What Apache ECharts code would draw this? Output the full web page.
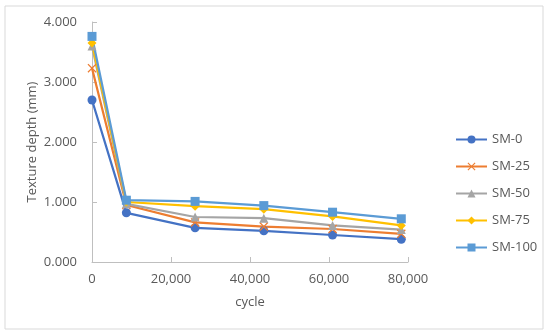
<!DOCTYPE html>
<html><head><meta charset="utf-8">
<script src="https://cdn.jsdelivr.net/npm/echarts@6/dist/echarts.min.js"></script>
<style>html,body{margin:0;padding:0;background:#fff}#c{width:550px;height:336px}</style>
</head><body><div id="c"></div>
<script>
const cycles = [0, 8700, 26100, 43500, 60900, 78300];
const seriesNames = ['SM-0', 'SM-25', 'SM-50', 'SM-75', 'SM-100'];
const sm0 = [2.70, 0.82, 0.57, 0.52, 0.45, 0.38];
const sm25 = [3.23, 0.95, 0.66, 0.59, 0.55, 0.47];
const sm50 = [3.60, 0.97, 0.75, 0.73, 0.61, 0.54];
const sm75 = [3.65, 1.00, 0.93, 0.88, 0.76, 0.61];
const sm100 = [3.76, 1.03, 1.01, 0.94, 0.83, 0.72];
const xTicks = [0, 20000, 40000, 60000, 80000];
const yTicks = [0, 1, 2, 3, 4];

const colors = ['#4472C4', '#ED7D31', '#A5A5A5', '#FFC000', '#5B9BD5'];
const crossPath = 'path://M0,1L1,0L5,4L9,0L10,1L6,5L10,9L9,10L5,6L1,10L0,9L4,5Z';
const symbols = ['circle', crossPath, 'triangle', 'diamond', 'rect'];
const sizes = [9, 9, 9, 9, 9];
const allData = [sm0, sm25, sm50, sm75, sm100];
const font = 'Open Sans, Liberation Sans, sans-serif';

const chart = echarts.init(document.getElementById('c'));
chart.setOption({
  animation: false,
  color: colors,
  textStyle: {fontFamily: font},
  graphic: [{type: 'rect', shape: {x: 5, y: 6, width: 538, height: 323},
    style: {fill: 'none', stroke: '#d9d9d9', lineWidth: 1}, silent: true}],
  grid: {left: 92, right: 142, top: 22, bottom: 74},
  legend: {
    orient: 'vertical', left: 450, top: 128, itemWidth: 31, itemHeight: 10, itemGap: 14,
    textStyle: {color: '#595959', fontSize: 13, fontFamily: font},
    data: seriesNames
  },
  xAxis: {
    type: 'value', min: xTicks[0], max: xTicks[xTicks.length - 1], interval: 20000,
    name: 'cycle', nameLocation: 'middle', nameGap: 34, nameMoveOverlap: false,
    nameTextStyle: {color: '#595959', fontSize: 13, fontFamily: font},
    axisLine: {lineStyle: {color: '#bfbfbf', width: 1}},
    axisTick: {show: true, inside: true, length: 5, lineStyle: {color: '#bfbfbf'}},
    axisLabel: {color: '#595959', fontSize: 13, margin: 11,
      formatter: v => v.toLocaleString('en-US')},
    splitLine: {show: false}
  },
  yAxis: {
    type: 'value', min: yTicks[0], max: yTicks[yTicks.length - 1], interval: 1,
    name: 'Texture depth (mm)', nameLocation: 'middle', nameGap: 53, nameMoveOverlap: false,
    nameTextStyle: {color: '#595959', fontSize: 13, fontFamily: font},
    axisLine: {show: true, lineStyle: {color: '#bfbfbf', width: 1}},
    axisTick: {show: true, inside: true, length: 5, lineStyle: {color: '#bfbfbf'}},
    axisLabel: {color: '#595959', fontSize: 13, margin: 15, formatter: v => v.toFixed(3)},
    splitLine: {show: false}
  },
  series: seriesNames.map((n, i) => ({
    name: n, type: 'line',
    data: cycles.map((c, j) => [c, allData[i][j]]),
    symbol: symbols[i], symbolSize: sizes[i], showSymbol: true,
    lineStyle: {width: 2.25, color: colors[i]},
    itemStyle: {color: colors[i]}
  }))
});
</script></body></html>
